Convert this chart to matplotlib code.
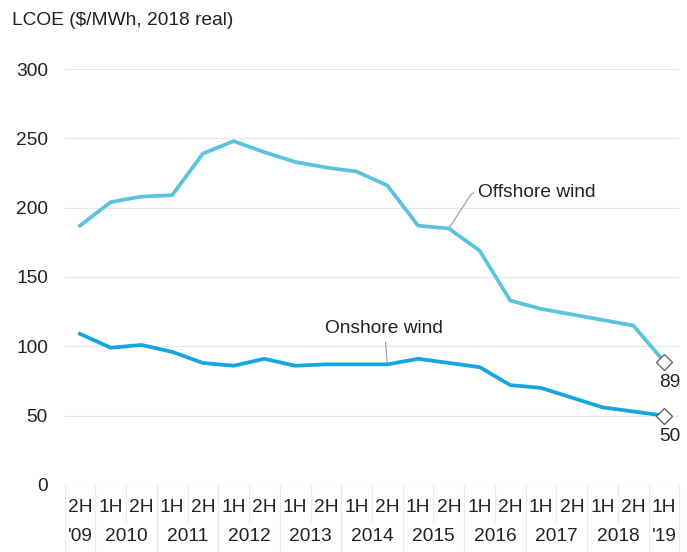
import matplotlib
matplotlib.use("Agg")
import matplotlib.pyplot as plt
from matplotlib.transforms import blended_transform_factory

plt.rcParams['font.family'] = ['Liberation Sans', 'DejaVu Sans']

# Half-year periods, 2H 2009 to 1H 2019
halves = ["2H", "1H", "2H", "1H", "2H", "1H", "2H", "1H", "2H", "1H",
          "2H", "1H", "2H", "1H", "2H", "1H", "2H", "1H", "2H", "1H"]
years = ["'09", "2010", "2011", "2012", "2013", "2014", "2015",
         "2016", "2017", "2018", "'19"]
# Category index span covered by each year label
year_spans = [(0, 0), (1, 2), (3, 4), (5, 6), (7, 8), (9, 10), (11, 12),
              (13, 14), (15, 16), (17, 18), (19, 19)]

offshore = [187, 204, 208, 209, 239, 248, 240, 233, 229, 226,
            216, 187, 185, 169, 133, 127, 123, 119, 115, 89]
onshore = [109, 99, 101, 96, 88, 86, 91, 86, 87, 87,
           87, 91, 88, 85, 72, 70, 63, 56, 53, 50]

yticks = [0, 50, 100, 150, 200, 250, 300]

off_color = "#5BC3E0"
on_color = "#14A6DF"
text_color = "#222222"
fs = 13.8

fig = plt.figure(figsize=(6.87, 5.52), dpi=100)
ax = fig.add_axes([0.094, 0.1214, 0.895, 0.7536])

x = list(range(len(halves)))
ax.plot(x, offshore, color=off_color, lw=2.7, solid_joinstyle="round", zorder=3)
ax.plot(x, onshore, color=on_color, lw=2.7, solid_joinstyle="round", zorder=3)

# Latest-value markers and labels
for series in (offshore, onshore):
    ax.plot(x[-1], series[-1], marker="D", ms=8.5, mfc="white", mec="#666666",
            mew=1.0, zorder=4, clip_on=False)
    ax.annotate(f"{series[-1]}", (x[-1], series[-1]), xytext=(4, -9),
                textcoords="offset points", ha="center", va="top",
                fontsize=fs, color=text_color)

# Series labels with leader lines
ax.annotate("Offshore wind", xy=(12, offshore[12]), xytext=(12.95, 210.7),
            ha="left", va="center", fontsize=fs, color=text_color,
            arrowprops=dict(arrowstyle="-", color="#999999", lw=0.8,
                            shrinkA=1, shrinkB=1,
                            connectionstyle="angle,angleA=0,angleB=57,rad=3"))
ax.annotate("Onshore wind", xy=(10, onshore[10]), xytext=(9.9, 113),
            ha="center", va="center", fontsize=fs, color=text_color,
            arrowprops=dict(arrowstyle="-", color="#999999", lw=0.8,
                            shrinkA=2, shrinkB=1))

ax.set_xlim(-0.5, len(halves) - 0.5)
ax.set_ylim(0, 300)
ax.set_yticks(yticks)
ax.set_yticklabels([str(v) for v in yticks])
ax.yaxis.grid(True, color="#E6E6E6", lw=0.8, zorder=0)
ax.set_axisbelow(True)
ax.tick_params(axis="y", length=0, pad=12, labelsize=fs, labelcolor=text_color)
ax.set_xticks([])
for s in ax.spines.values():
    s.set_visible(False)

# Two-row category axis: half-year on top, year below, with column separators
trans = blended_transform_factory(ax.transData, ax.transAxes)
for i, h in enumerate(halves):
    ax.text(i, -0.055, h, transform=trans, ha="center", va="center",
            fontsize=fs, color=text_color)
for (a, b), yr in zip(year_spans, years):
    ax.text((a + b) / 2, -0.125, yr, transform=trans, ha="center", va="center",
            fontsize=fs, color=text_color)

year_edges = {a - 0.5 for a, b in year_spans} | {year_spans[-1][1] + 0.5}
for i in range(len(halves) + 1):
    edge = i - 0.5
    bottom = -0.17 if edge in year_edges else -0.088
    ax.plot([edge, edge], [0, bottom], transform=trans, color="#EBEBEB",
            lw=0.8, clip_on=False, zorder=0)

fig.text(0.017, 0.963, "LCOE ($/MWh, 2018 real)", ha="left", va="center",
         fontsize=fs, color=text_color)

fig.savefig("out.png", dpi=100, facecolor="white")
